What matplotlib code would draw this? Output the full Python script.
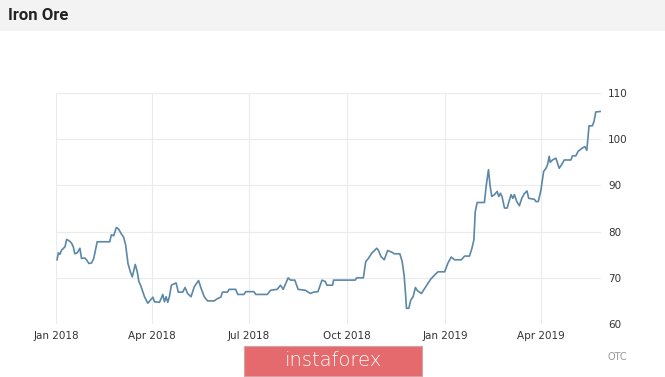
import numpy as np
import matplotlib
matplotlib.use("Agg")
import matplotlib.pyplot as plt
from matplotlib.patches import Rectangle

# days since 2018-01-01 and price (USD/t)
days = [1, 2.2, 3.7, 5.3, 8.4, 10, 12.4, 14.6, 16.2, 17.7, 19.9, 22.4, 23.9, 27, 28.6,
        30.8, 33.3, 35.4, 38.6, 50.4, 51.9, 54.1, 56.6, 58.5, 61.3, 63.4, 65.3, 67.5,
        69.7, 71.5, 74.3, 76.2, 77.7, 79.3, 83, 86.1, 88.6, 90.8, 92.4, 97, 98.6, 100.1,
        101.7, 103.2, 104.8, 106.3, 108.2, 112.6, 114.7, 118.8, 121, 123.4, 126.6, 129.7,
        133.7, 135.9, 139, 142.1, 148.3, 151.4, 154.5, 156.1, 160.8, 162.3, 168.5, 170.4,
        176.3, 177.9, 185.6, 187.2, 198.1, 201.2, 207.4, 210.5, 213, 217.7, 219.8, 223.9,
        227, 233.8, 238.5, 241.6, 245.6, 249.4, 252.5, 254, 259.3, 260.3, 280.5, 282,
        288.2, 290.4, 292.9, 296, 300.7, 302.2, 304.7, 307.8, 310.9, 315.3, 317.1, 322.4,
        324.6, 326.5, 327.7, 328.6, 330.8, 332.7, 334.8, 337, 338.9, 342.6, 345.7, 348.7,
        351.3, 355, 358.2, 364.4, 367.5, 370.6, 373.7, 380, 383.1, 387.7, 390, 391.8,
        393.1, 394.9, 401.7, 403.3, 405.5, 407, 408.6, 411.1, 413.6, 415.2, 416.7, 418.3,
        420.5, 423, 425.2, 426.7, 428.3, 429.8, 432, 434.5, 436.7, 439.1, 441.6, 443.2,
        448.5, 450, 452.2, 454.7, 457.2, 459.4, 460.9, 462.4, 463.4, 465.5, 468.7, 471.8,
        474.9, 476.5, 482.7, 484.3, 487.4, 489.6, 493.6, 495.8, 497.7, 499.8, 502.9, 504.5,
        506.1, 510.2]
price = [73.9, 75.4, 75.1, 76.0, 76.7, 78.3, 78.0, 77.5, 76.7, 75.2, 75.4, 76.4, 74.2, 74.3,
         73.9, 73.1, 73.2, 74.2, 77.8, 77.8, 79.3, 79.1, 80.9, 80.6, 79.5, 78.8, 77.1, 73.1,
         71.3, 70.2, 72.9, 71.3, 69.2, 68.4, 65.9, 64.5, 65.2, 65.8, 64.8, 64.7, 65.5, 66.4,
         64.8, 65.9, 64.7, 65.9, 68.4, 68.9, 66.9, 66.9, 67.9, 66.6, 65.9, 68.1, 69.4, 67.8,
         65.9, 65.0, 65.0, 65.5, 65.8, 66.9, 66.9, 67.5, 67.5, 66.4, 66.4, 67.0, 67.0, 66.4,
         66.4, 67.3, 67.5, 68.4, 67.5, 70.0, 69.5, 69.5, 67.5, 67.3, 66.6, 66.9, 67.0, 69.5,
         69.2, 68.4, 68.4, 69.5, 69.5, 70.0, 70.0, 73.5, 74.2, 75.3, 76.4, 76.0, 74.6, 73.9,
         75.9, 75.5, 75.2, 75.2, 73.5, 70.3, 66.6, 63.4, 63.4, 65.2, 65.9, 67.9, 67.2, 66.6,
         67.7, 68.8, 69.7, 70.6, 71.3, 71.3, 73.2, 74.5, 73.9, 73.9, 74.7, 74.7, 76.4, 78.2,
         84.3, 86.3, 86.3, 89.8, 93.4, 89.9, 87.6, 88.0, 88.7, 87.6, 88.3, 87.5, 85.1, 85.1,
         86.9, 88.0, 87.2, 88.0, 86.5, 85.6, 87.2, 88.2, 88.8, 87.2, 87.0, 86.5, 86.5, 89.0,
         93.0, 93.7, 94.5, 96.3, 95.0, 95.5, 95.9, 93.7, 94.8, 95.5, 95.5, 96.4, 96.4, 97.4,
         98.1, 98.4, 97.6, 102.9, 102.9, 103.9, 105.9, 106.0]

tick_dates = ["2018-01-01", "2018-04-01", "2018-07-01", "2018-10-01", "2019-01-01", "2019-04-01"]
tick_labels = ["Jan 2018", "Apr 2018", "Jul 2018", "Oct 2018", "Jan 2019", "Apr 2019"]
y_ticks = [60, 70, 80, 90, 100, 110]

start = np.datetime64("2018-01-01")
dates = start + (np.array(days) * 24 * 3600).astype("timedelta64[s]")

fig = plt.figure(figsize=(6.65, 3.77), dpi=100)
fig.patches.append(Rectangle((0, 1 - 31 / 377), 1, 31 / 377, transform=fig.transFigure,
                             facecolor="#f3f3f3", edgecolor="none", zorder=0))
fig.text(8 / 665, 1 - 15 / 377, "Iron Ore", fontsize=12, fontweight="bold",
         family=["Liberation Sans Narrow", "Roboto"], color="#222222",
         va="center", ha="left")

ax = fig.add_axes([56 / 665, 1 - 324 / 377, 545 / 665, 231 / 377])
ax.plot(dates, price, color="#5b87a8", lw=1.2)
ax.set_ylim(60, 110)
ax.set_xlim(start, start + np.timedelta64(511, "D"))
ax.set_yticks(y_ticks)
ax.set_xticks(np.array(tick_dates, dtype="datetime64[D]"))
ax.set_xticklabels(tick_labels)
ax.yaxis.tick_right()
ax.tick_params(length=0, labelsize=7.5, colors="#333333", pad=5)
ax.grid(True, color="#ebebeb", lw=0.8)
for s in ax.spines.values():
    s.set_visible(False)

fig.text(607 / 665, 1 - 357 / 377, "OTC", fontsize=7, color="#999999", va="center", ha="left")

# watermark
fig.patches.append(Rectangle((244 / 665, 1 - 376 / 377), 178 / 665, 30 / 377,
                             transform=fig.transFigure, facecolor="#e46a6e",
                             edgecolor="#d9a0a2", lw=0.8, zorder=5))
fig.text(333 / 665, 1 - 361 / 377, "instaforex", fontsize=14, color="white",
         family="DejaVu Sans", fontweight="light", ha="center", va="center", zorder=6)

fig.savefig("out.png", dpi=100)
